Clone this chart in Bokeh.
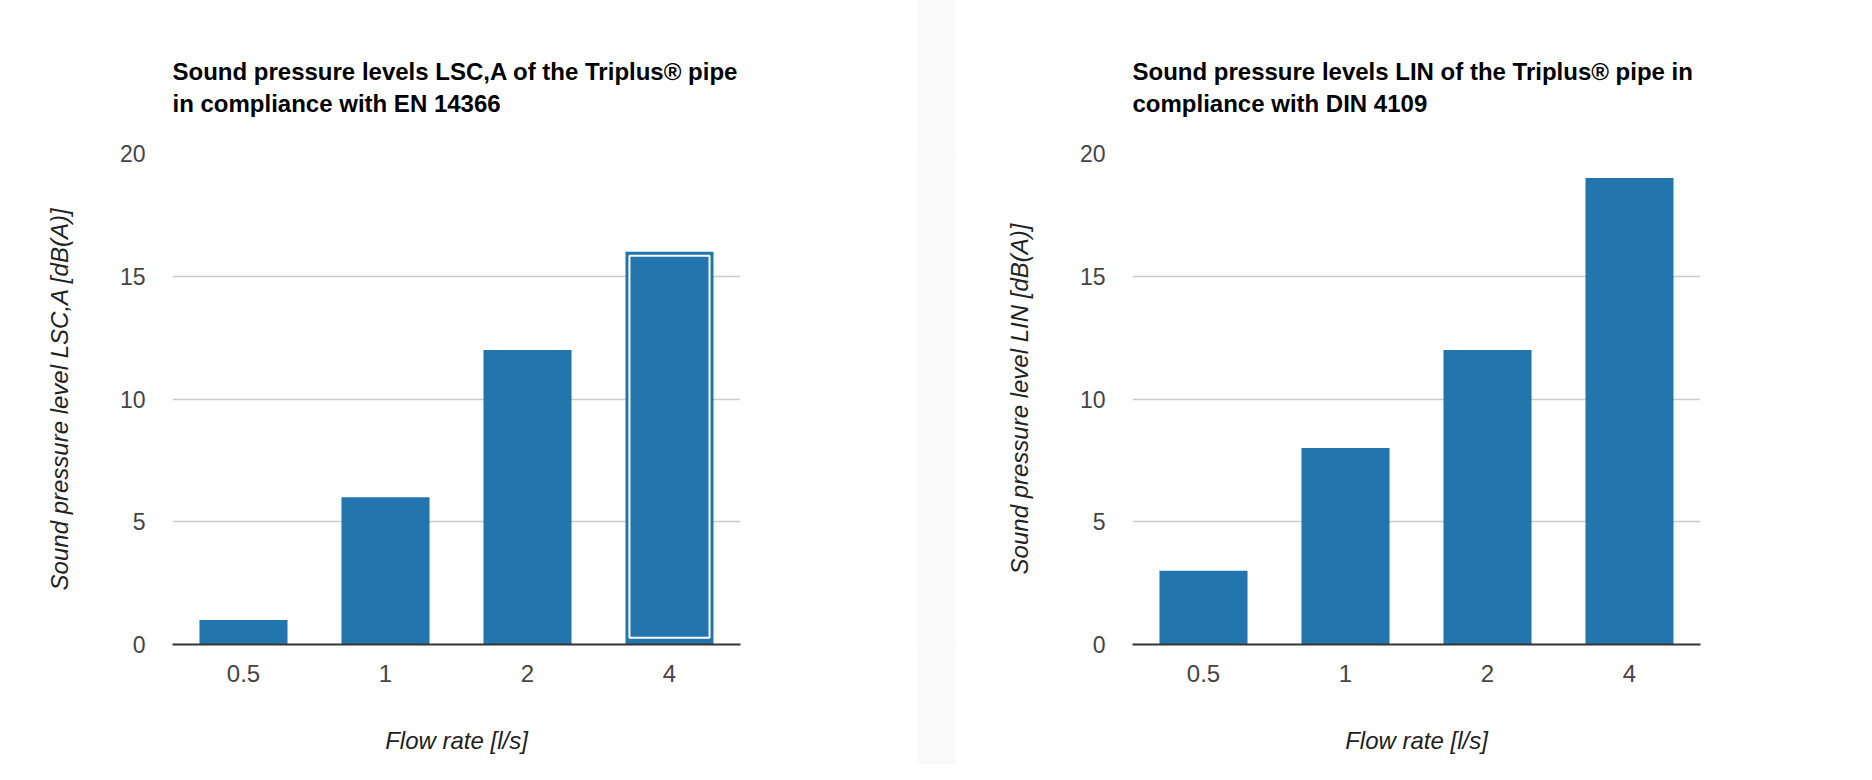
from bokeh.plotting import figure
from bokeh.models import Range1d, Title, FactorRange, ColumnDataSource
from bokeh.layouts import row
from bokeh.embed import file_html
from bokeh.resources import INLINE

# ---- data ----
flow_rates = ["0.5", "1", "2", "4"]
lsca_values = [1, 6, 12, 16]
lin_values = [3, 8, 12, 19]
y_ticks = [0, 5, 10, 15, 20]
left_title = ["Sound pressure levels LSC,A of the Triplus\u00ae pipe",
              "in compliance with EN 14366"]
right_title = ["Sound pressure levels LIN of the Triplus\u00ae pipe in",
               "compliance with DIN 4109"]
left_ylabel = "Sound pressure level LSC,A [dB(A)]"
right_ylabel = "Sound pressure level LIN [dB(A)]"
x_label = "Flow rate [l/s]"
left_highlight = ["4"]

# ---- style ----
FONT = "Liberation Sans"
BAR = "#2276ad"
BAR_W = 0.62
FIG_H = 764
B_TOP, B_BOTTOM = 153, 120


def make_chart(values, title_lines, ylabel, fig_w, b_left, b_right, highlight=()):
    p = figure(width=fig_w, height=FIG_H, x_range=FactorRange(*flow_rates),
               y_range=Range1d(0, 20), title=None, toolbar_location=None,
               output_backend="svg", min_border_left=b_left,
               min_border_right=b_right, min_border_top=B_TOP,
               min_border_bottom=B_BOTTOM, outline_line_color=None)
    src = ColumnDataSource(dict(x=flow_rates, top=values))
    p.vbar(x="x", top="top", width=BAR_W, source=src, fill_color=BAR,
           line_color=None)
    if highlight:
        hx = [f for f in flow_rates if f in highlight]
        ht = [v for f, v in zip(flow_rates, values) if f in highlight]
        hs = ColumnDataSource(dict(x=hx, top=[t - 0.16 for t in ht]))
        p.vbar(x="x", top="top", bottom=0.28, width=BAR_W - 0.056, source=hs,
               fill_color=None, line_color="white", line_width=2)

    p.add_layout(Title(text="\n".join(title_lines), text_font=FONT,
                       text_font_size="24px", text_font_style="bold",
                       text_color="#000000", align="left",
                       text_line_height=1.2, standoff=73), "above")

    p.xgrid.grid_line_color = None
    p.ygrid.grid_line_color = "#cccccc"
    p.ygrid.grid_line_width = 1.5
    p.yaxis.ticker = y_ticks

    p.yaxis.axis_line_color = None
    p.yaxis.major_tick_line_color = None
    p.yaxis.minor_tick_line_color = None
    p.yaxis.major_label_text_font = FONT
    p.yaxis.major_label_text_font_size = "23px"
    p.yaxis.major_label_text_color = "#444444"
    p.yaxis.major_label_standoff = 21
    p.yaxis.axis_label = ylabel
    p.yaxis.axis_label_text_font = FONT
    p.yaxis.axis_label_text_font_size = "24px"
    p.yaxis.axis_label_text_font_style = "italic"
    p.yaxis.axis_label_text_color = "#222222"
    p.yaxis.axis_label_standoff = 44

    p.xaxis.axis_line_color = "#333333"
    p.xaxis.axis_line_width = 2
    p.xaxis.major_tick_line_color = None
    p.xaxis.minor_tick_line_color = None
    p.xaxis.major_label_text_font = FONT
    p.xaxis.major_label_text_font_size = "24px"
    p.xaxis.major_label_text_color = "#444444"
    p.xaxis.major_label_standoff = 14
    p.xaxis.axis_label = x_label
    p.xaxis.axis_label_text_font = FONT
    p.xaxis.axis_label_text_font_size = "24px"
    p.xaxis.axis_label_text_font_style = "italic"
    p.xaxis.axis_label_text_color = "#222222"
    p.xaxis.axis_label_standoff = 42
    return p


left = make_chart(lsca_values, left_title, left_ylabel, 916, 172, 176, left_highlight)
right = make_chart(lin_values, right_title, right_ylabel, 908, 176, 164)

band = figure(width=40, height=FIG_H, toolbar_location=None, output_backend="svg",
              background_fill_color="#fafafa", border_fill_color="#fafafa",
              outline_line_color=None, min_border=0, x_axis_type=None,
              y_axis_type=None)
band.xgrid.grid_line_color = None
band.ygrid.grid_line_color = None

layout = row(left, band, right)
open("out.html", "w").write(file_html(layout, INLINE))
